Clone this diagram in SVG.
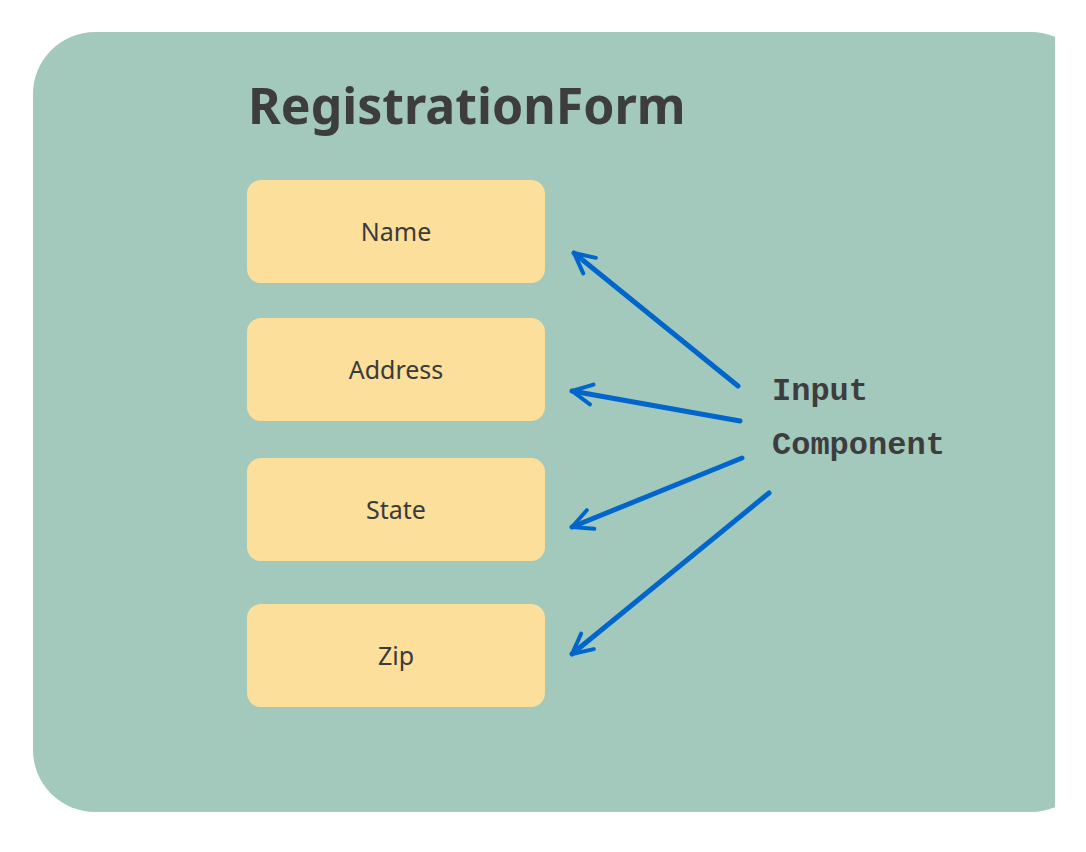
<svg xmlns="http://www.w3.org/2000/svg" width="1086" height="852" viewBox="0 0 1086 852">
<style>
.box{fill:#FBDF9B}
.lbl{font-family:"Noto Sans","Liberation Sans",sans-serif;font-size:25px;fill:#3a3a3a;text-anchor:middle}
.arr{stroke:#0066CC;stroke-width:5;fill:none;stroke-linecap:round;marker-end:url(#ah)}
</style>
<defs>
<marker id="ah" viewBox="0 0 10 10" refX="9" refY="5" markerWidth="5" markerHeight="5" orient="auto" markerUnits="strokeWidth">
<path d="M1,1 L9,5 L1,9" fill="none" stroke="#0066CC" stroke-width="1.6" stroke-linecap="round" stroke-linejoin="round"/>
</marker>
</defs>
<rect width="1086" height="852" fill="#ffffff"/>
<rect x="33" y="32" width="1060" height="780" rx="62" fill="#A3C9BC"/>
<rect x="1055" y="0" width="31" height="852" fill="#ffffff"/>
<text x="248" y="124" font-family="'Noto Sans','Liberation Sans',sans-serif" font-weight="bold" font-size="50" fill="#3d3d3d">RegistrationForm</text>
<g id="name"><rect class="box" x="247" y="180" width="298" height="103" rx="14"/><text class="lbl" x="396" y="241">Name</text></g>
<g id="address"><rect class="box" x="247" y="318" width="298" height="103" rx="14"/><text class="lbl" x="396" y="379">Address</text></g>
<g id="state"><rect class="box" x="247" y="458" width="298" height="103" rx="14"/><text class="lbl" x="396" y="519">State</text></g>
<g id="zip"><rect class="box" x="247" y="604" width="298" height="103" rx="14"/><text class="lbl" x="396" y="665">Zip</text></g>
<g id="input"><text font-family="'Liberation Mono',monospace" font-weight="bold" font-size="32" fill="#3d3d3d"><tspan x="772" y="400">Input</tspan><tspan x="772" y="454">Component</tspan></text></g>
<g id="connectors">
<line class="arr" x1="738" y1="386" x2="574" y2="253"/>
<line class="arr" x1="740" y1="421" x2="572" y2="391"/>
<line class="arr" x1="742" y1="458" x2="572" y2="527"/>
<line class="arr" x1="769" y1="493" x2="572" y2="654"/>
</g>
</svg>
